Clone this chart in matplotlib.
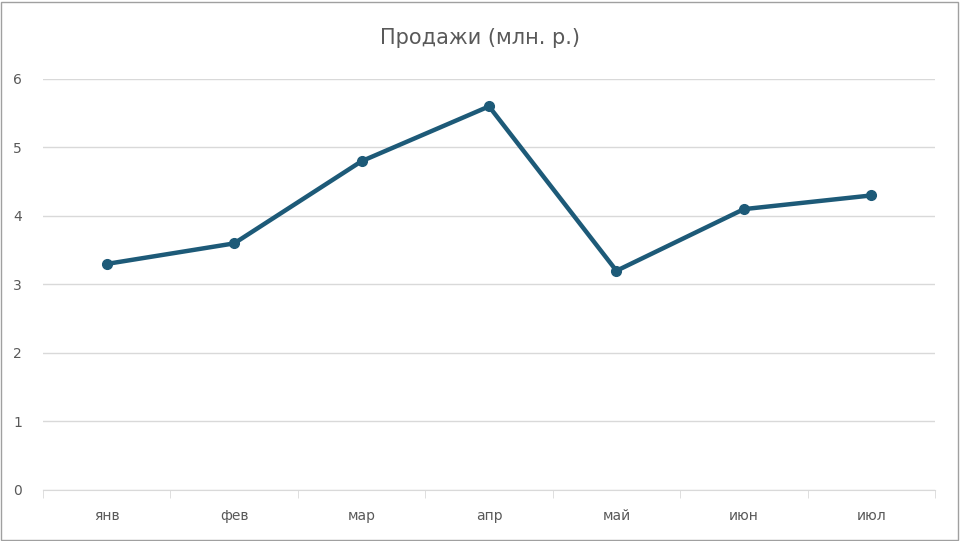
import matplotlib.pyplot as plt
from matplotlib.ticker import FixedLocator

months = ['янв', 'фев', 'мар', 'апр', 'май', 'июн', 'июл']
sales = [3.3, 3.6, 4.8, 5.6, 3.2, 4.1, 4.3]

fig = plt.figure(figsize=(9.6, 5.41), dpi=100)
ax = fig.add_axes([0.0448, 0.0943, 0.9292, 0.7597])

ax.plot(range(len(months)), sales, color='#1d5a78', lw=3.2, marker='o', ms=7,
        solid_joinstyle='round')

ax.set_xlim(-0.5, len(months) - 0.5)
ax.set_ylim(0, 6)
ax.set_yticks(range(7))
ax.set_xticks(range(len(months)))
ax.set_xticklabels(months)
ax.xaxis.set_minor_locator(FixedLocator([i - 0.5 for i in range(len(months) + 1)]))
ax.grid(axis='y', color='#d9d9d9', lw=1)
ax.set_axisbelow(True)
for s in ['top', 'right', 'left']:
    ax.spines[s].set_visible(False)
ax.spines['bottom'].set_color('#d9d9d9')
ax.tick_params(axis='y', length=0, labelsize=10, colors='#595959', pad=15)
ax.tick_params(axis='x', which='major', length=0, labelsize=10, colors='#595959', pad=14)
ax.tick_params(axis='x', which='minor', length=6, color='#d9d9d9')

fig.text(0.5, 0.93, 'Продажи (млн. р.)', ha='center', va='center', fontsize=15, color='#595959')
fig.patches.append(plt.Rectangle((0.001, 0.002), 0.997, 0.995, transform=fig.transFigure,
                                 fill=False, ec='#a0a0a0', lw=1))

fig.savefig('out.png', dpi=100)
